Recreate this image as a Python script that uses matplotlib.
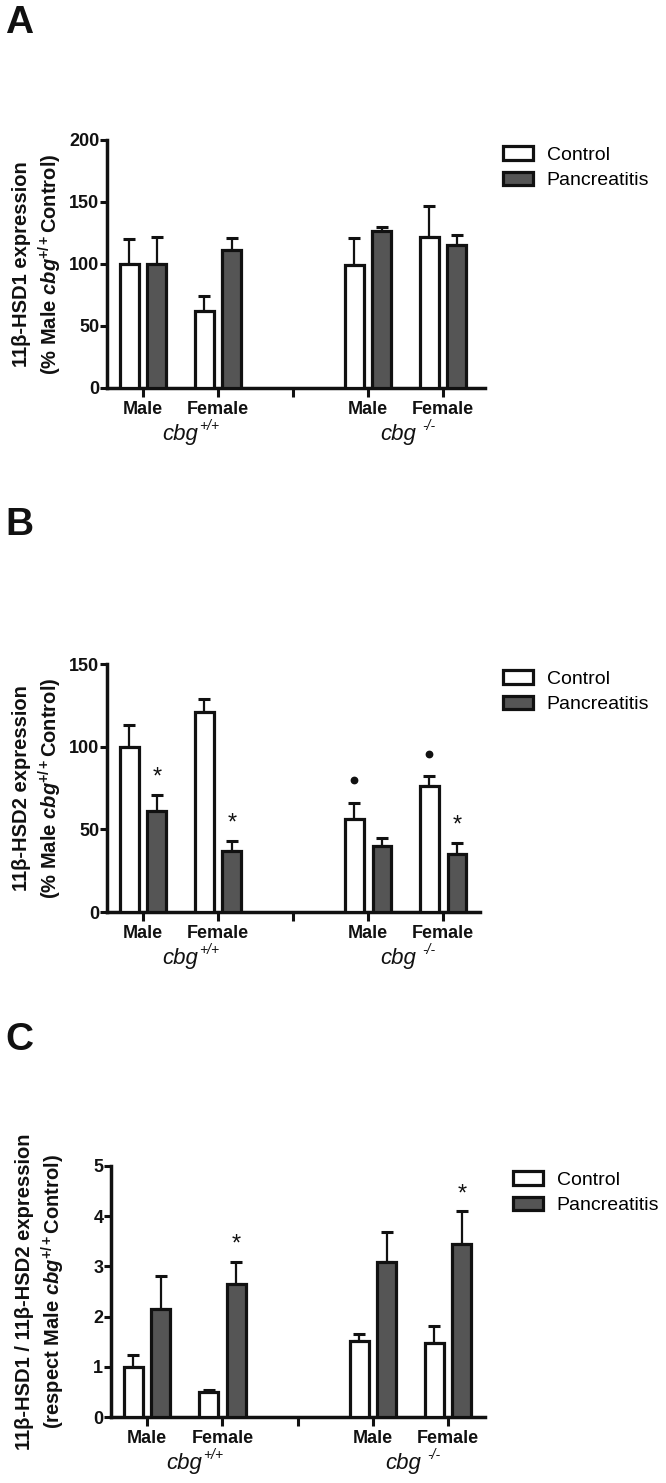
import numpy as np
import matplotlib
matplotlib.use('Agg')
import matplotlib.pyplot as plt
from matplotlib.transforms import offset_copy

plt.rcParams['font.family'] = ['Liberation Sans', 'DejaVu Sans']
plt.rcParams['mathtext.fontset'] = 'custom'
plt.rcParams['mathtext.rm'] = 'Liberation Sans'
plt.rcParams['mathtext.it'] = 'Liberation Sans:italic'
plt.rcParams['mathtext.bf'] = 'Liberation Sans:bold'
plt.rcParams['mathtext.bfit'] = 'Liberation Sans:italic:bold'

# categories
tick_labels = ['Male', 'Female', '', 'Male', 'Female']
positions = [0, 1, 3, 4]
series = ['Control', 'Pancreatitis']
genotype_base = 'cbg'
genotype_sup = ['+/+', '-/-']

# A: 11b-HSD1 (% Male cbg+/+ Control)
hsd1_ctrl = [100, 62, 99, 122]
hsd1_ctrl_sem = [20, 12, 22, 25]
hsd1_panc = [100, 111, 127, 115]
hsd1_panc_sem = [22, 10, 3, 8]

# B: 11b-HSD2 (% Male cbg+/+ Control)
hsd2_ctrl = [100, 121, 56, 76]
hsd2_ctrl_sem = [13, 8, 10, 6]
hsd2_panc = [61, 37, 40, 35]
hsd2_panc_sem = [10, 6, 4.5, 7]
hsd2_stars = [0, 1, 3]      # pancreatitis bars marked *
hsd2_dots = [2, 3]          # control bars marked with a dot

# C: ratio HSD1 / HSD2
ratio_ctrl = [1.0, 0.49, 1.51, 1.47]
ratio_ctrl_sem = [0.24, 0.04, 0.15, 0.35]
ratio_panc = [2.15, 2.65, 3.09, 3.44]
ratio_panc_sem = [0.66, 0.44, 0.59, 0.66]
ratio_stars = [1, 3]

W, H = 666, 1483
fig = plt.figure(figsize=(W / 100, H / 100), dpi=100)
renderer = fig.canvas.get_renderer()

def fig_box(left, top, right, bottom):
    return [left / W, 1 - bottom / H, (right - left) / W, (bottom - top) / H]

panels = [
    dict(letter='A', box=(107, 140, 485, 388), ylim=200, yticks=[0, 50, 100, 150, 200],
         ctrl=hsd1_ctrl, ctrl_sem=hsd1_ctrl_sem, panc=hsd1_panc, panc_sem=hsd1_panc_sem,
         stars=[], dots=[], letter_y=33, legend=(503, 146), xr=4.56, ylab_x=38,
         ylabel='11\u03b2-HSD1 expression\n(% Male $\\mathbfit{cbg}^{\\mathbf{+/+}}$Control)'),
    dict(letter='B', box=(107, 664, 480, 912), ylim=150, yticks=[0, 50, 100, 150],
         ctrl=hsd2_ctrl, ctrl_sem=hsd2_ctrl_sem, panc=hsd2_panc, panc_sem=hsd2_panc_sem,
         stars=hsd2_stars, dots=hsd2_dots, letter_y=535, legend=(503, 670), xr=4.49, ylab_x=38,
         ylabel='11\u03b2-HSD2 expression\n(% Male $\\mathbfit{cbg}^{\\mathbf{+/+}}$Control)'),
    dict(letter='C', box=(111, 1166, 485, 1417), ylim=5, yticks=[0, 1, 2, 3, 4, 5],
         ctrl=ratio_ctrl, ctrl_sem=ratio_ctrl_sem, panc=ratio_panc, panc_sem=ratio_panc_sem,
         stars=ratio_stars, dots=[], letter_y=1050, legend=(513, 1171), xr=4.49, ylab_x=41,
         ylabel='11\u03b2-HSD1 / 11\u03b2-HSD2 expression\n(respect Male $\\mathbfit{cbg}^{\\mathbf{+/+}}$Control)'),
]

x = np.array(positions, dtype=float)
bw = 0.25
off = 0.183
lw = 2.3
ink = '#111111'

for p in panels:
    l, t, r, b = p['box']
    ax = fig.add_axes(fig_box(l, t, r, b))
    bc = ax.bar(x - off, p['ctrl'], bw, color='white', edgecolor=ink, linewidth=lw,
                label=series[0], zorder=3)
    bp = ax.bar(x + off, p['panc'], bw, color='#555555', edgecolor=ink, linewidth=lw,
                label=series[1], zorder=3)
    ax.errorbar(x - off, p['ctrl'], yerr=[np.zeros(4), p['ctrl_sem']], fmt='none',
                ecolor=ink, elinewidth=1.6, capsize=4, capthick=2.2, zorder=2)
    ax.errorbar(x + off, p['panc'], yerr=[np.zeros(4), p['panc_sem']], fmt='none',
                ecolor=ink, elinewidth=1.6, capsize=4, capthick=2.2, zorder=2)

    for i in p['stars']:
        ax.annotate('*', xy=(x[i] + off, p['panc'][i] + p['panc_sem'][i]),
                    xytext=(0, 8), textcoords='offset points', ha='center', va='baseline',
                    fontsize=17, color=ink)
    dot_tr = offset_copy(ax.transData, fig=fig, x=0, y=16.5, units='points')
    for i in p['dots']:
        ax.plot(x[i] - off, p['ctrl'][i] + p['ctrl_sem'][i], 'o', ms=4.6, color=ink,
                transform=dot_tr, clip_on=False)

    ax.set_xlim(-0.48, p['xr'])
    ax.set_ylim(0, p['ylim'])
    ax.set_yticks(p['yticks'])
    ax.set_xticks(range(5))
    ax.set_xticklabels(tick_labels)
    for s in ['top', 'right']:
        ax.spines[s].set_visible(False)
    for s in ['left', 'bottom']:
        ax.spines[s].set_linewidth(2.5)
        ax.spines[s].set_color(ink)
    ax.tick_params(axis='x', length=6.5, width=2.2, pad=3, labelsize=13, colors=ink)
    ax.tick_params(axis='y', length=5, width=2.2, pad=0.5, labelsize=13, colors=ink)
    for lab in ax.get_xticklabels() + ax.get_yticklabels():
        lab.set_fontweight('bold')

    # genotype labels under each pair of groups
    for gx, sup, gap in zip([0.49, 3.4], genotype_sup, [1, 6]):
        tb = ax.annotate(genotype_base, xy=(gx, 0), xycoords=ax.get_xaxis_transform(),
                         xytext=(0, -37.5), textcoords='offset points', ha='center',
                         va='baseline', fontsize=16, style='italic', color=ink)
        bb = tb.get_window_extent(renderer)
        fig.text((bb.x1 + gap) / W, (bb.y0 + 4 + 11) / H, sup, ha='left', va='baseline',
                 fontsize=10, style='italic', color=ink)

    fig.text(p['ylab_x'] / W, 1 - ((t + b) / 2) / H, p['ylabel'],
             rotation=90, ha='center', va='center', fontsize=14.5, fontweight='bold',
             linespacing=1.25, color=ink)

    fig.text(5 / W, 1 - p['letter_y'] / H, p['letter'], fontsize=28, fontweight='bold',
             ha='left', va='baseline', color=ink)

    lx, ly = p['legend']
    ax.legend(handles=[bc, bp], loc='upper left', bbox_to_anchor=(lx / W, 1 - ly / H),
              bbox_transform=fig.transFigure, frameon=False, fontsize=14,
              handlelength=1.55, handleheight=0.72, handletextpad=0.7, labelspacing=0.4,
              borderpad=0, borderaxespad=0)

fig.savefig('out.png', dpi=100)
